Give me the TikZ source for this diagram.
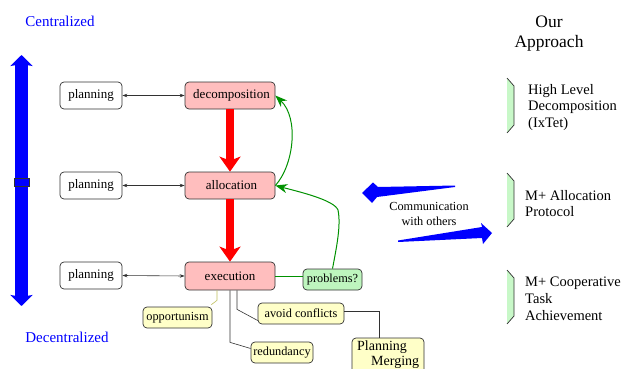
\documentclass[tikz,border=0pt]{standalone}
\usepackage{fontspec}
\setmainfont{Liberation Serif}
\usetikzlibrary{arrows.meta,calc}
\definecolor{pinkfill}{RGB}{255,190,190}
\definecolor{probfill}{RGB}{190,245,190}
\definecolor{bracketfill}{RGB}{200,248,200}
\definecolor{yelfill}{RGB}{255,255,200}
\definecolor{boxline}{RGB}{50,50,50}
\definecolor{darkgreen}{RGB}{0,145,0}
\definecolor{olive}{RGB}{190,190,90}
\tikzset{smallhead/.tip={Stealth[length=5pt,width=3.5pt]}}
\begin{document}
\begin{tikzpicture}[x=1pt,y=-1pt,
  box/.style={draw=boxline, line width=0.7pt, rounded corners=4pt, inner sep=0pt, font=\fontsize{13}{15}\selectfont},
  redbox/.style={box, fill=pinkfill, minimum width=90pt, minimum height=27pt},
  planbox/.style={box, fill=white, minimum width=62pt, minimum height=27pt},
  tagbox/.style={box, fill=yelfill, minimum height=21pt, font=\fontsize{12.3}{14}\selectfont},
  conn/.style={draw=boxline, line width=0.6pt},
  tagconn/.style={draw=boxline, line width=0.6pt},
  greenconn/.style={draw=darkgreen, line width=1pt},
  bigred/.style={red, line width=8pt, -{Stealth[length=15pt,width=21pt,inset=4pt]}},
  greenhead/.style={-{Stealth[length=12pt,width=9pt]}},
  bracketfillstyle/.style={fill=bracketfill},
  bracketedge/.style={draw=boxline, line width=0.7pt},
  righttext/.style={anchor=west, align=left, inner sep=0pt, font=\fontsize{14.5}{16.8}\selectfont},
  sidelabel/.style={text=blue, inner sep=0pt, font=\fontsize{15}{17}\selectfont}
]
\useasboundingbox (0,0) rectangle (626,369);
\clip (0,0) rectangle (626,369);

% side labels and vertical arrow
\node[sidelabel] (cent) at (60,21) {Centralized};
\node[sidelabel] (decent) at (67,337) {Decentralized};
\coordinate (vtop) at (21.5,55);
\coordinate (vbot) at (21.5,306);
\draw[blue, line width=13pt, {Stealth[length=11pt,width=22pt,inset=2pt]}-{Stealth[length=11pt,width=22pt,inset=2pt]}] (vtop) -- (vbot);
\node[draw=boxline, fill=blue, line width=0.7pt, minimum width=15pt, minimum height=8pt, inner sep=0pt] (slider) at (21.5,182) {};

% main boxes
\node[planbox] (p1) at (91,95.5) {planning};
\node[planbox] (p2) at (91,185.5) {planning};
\node[planbox] (p3) at (91,275.5) {planning};
\node[redbox] (decomp) at (230,95.5) {\hspace{3pt}decomposition};
\node[redbox] (alloc) at (230,185.5) {\hspace{3pt}allocation};
\node[redbox, minimum height=28pt] (exec) at (230,276) {execution};
\node[box, fill=probfill, minimum width=59pt, minimum height=21pt, font=\fontsize{12.3}{14}\selectfont] (prob) at (332.5,279.5) {problems?};

% yellow tags
\node[tagbox, minimum width=69pt] (opp) at (177.5,317.5) {opportunism};
\node[tagbox, minimum width=62pt] (redund) at (282,352.5) {redundancy};
\node[tagbox, minimum width=86pt] (avoid) at (301,313.5) {avoid conflicts};
\node[box, fill=yelfill, minimum width=72pt, minimum height=47pt] (merge) at (388,361.5) {};
\node[anchor=north west, align=left, inner sep=0pt, font=\fontsize{14}{15}\selectfont] (mergetext) at (357,341) {Planning\\\hspace{14pt}Merging};

% planning connectors
\draw[conn, smallhead-smallhead] (p1.east) -- (decomp.west);
\draw[conn, smallhead-smallhead] (p2.east) -- (alloc.west);
\draw[conn, smallhead-smallhead] (p3.east) -- (exec.west);

% red arrows
\draw[bigred] (decomp.south) -- (alloc.north);
\draw[bigred] (alloc.south) -- (exec.north);

% green connectors
\draw[greenconn] (exec.east) -- (exec.east -| prob.west);
\draw[greenconn, greenhead] (alloc.east) .. controls (294,165) and (299,118) .. (decomp.east);
\draw[greenconn, greenhead] (prob.north) .. controls (337,245) and (341,225) .. (338,210) .. controls (334,200) and (300,192) .. (alloc.east);

% tag connectors
\draw[draw=olive, line width=0.6pt] ([xshift=-13pt]exec.south) -- ++(0,10) -- ([xshift=-1pt,yshift=2pt]opp.north east);
\draw[tagconn] (exec.south) -- ++(0,52) -- ([yshift=4pt]redund.west);
\draw[tagconn] ([xshift=7pt]exec.south) -- ++(0,19) -- ([yshift=-7pt]avoid.west);
\draw[tagconn] ([yshift=2pt]avoid.east) -| ([xshift=-9pt]merge.north);

% communication arrows
\fill[blue] (455,185.5) -- (378,187) -- (373,182.5) -- (362,193) -- (372,203) -- (377,197) -- (455,187) -- cycle;
\fill[blue] (398,240.5) -- (482,227) -- (481,223) -- (492,233) -- (483,244) -- (482,238) -- (398,242) -- cycle;
\node[align=center, inner sep=0pt, font=\fontsize{12.3}{15}\selectfont] (comm) at (429,213.5) {Communication\\with others};

% our approach
\node[align=center, inner sep=0pt, font=\fontsize{17.5}{20}\selectfont] (our) at (549,34) {Our\\Approach};

\fill[bracketfillstyle] (507,78) -- (514,86) -- (514,125) -- (507,133) -- cycle;
\draw[bracketedge] (507,78) -- (514,86) -- (514,125) -- (507,133);
\fill[bracketfillstyle] (507,173) -- (514,181) -- (514,219) -- (507,227) -- cycle;
\draw[bracketedge] (507,173) -- (514,181) -- (514,219) -- (507,227);
\fill[bracketfillstyle] (507,270) -- (514,278) -- (514,316) -- (507,324) -- cycle;
\draw[bracketedge] (507,270) -- (514,278) -- (514,316) -- (507,324);

\node[righttext] (hl) at (528,107.5) {High Level\\Decomposition\\(IxTet)};
\node[righttext] (ma) at (525,203.5) {M+ Allocation\\Protocol};
\node[righttext] (mc) at (525,298.5) {M+ Cooperative\\Task\\Achievement};
\end{tikzpicture}
\end{document}
